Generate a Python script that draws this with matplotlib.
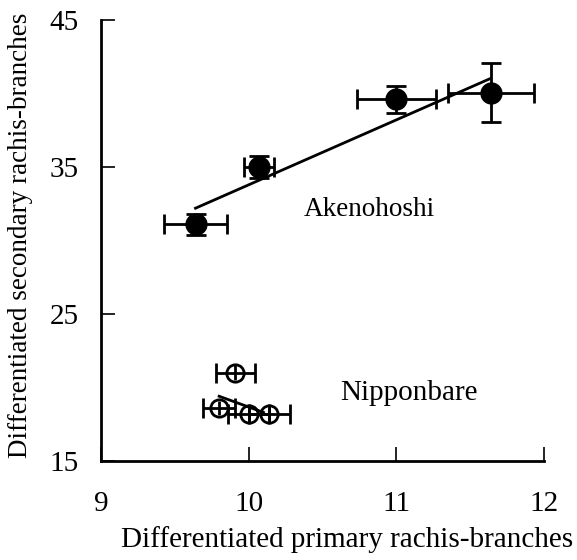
import matplotlib
matplotlib.use("Agg")
import matplotlib.pyplot as plt

# Akenohoshi (filled)
ake_x = [9.64, 10.07, 11.00, 11.64]
ake_y = [31.1, 35.0, 39.6, 40.05]
ake_xerr = [0.21, 0.10, 0.27, 0.29]
ake_yerr = [0.7, 0.75, 0.9, 2.0]
ake_fit_x = [9.64, 11.63]
ake_fit_y = [32.2, 41.0]

# Nipponbare (open)
nip_x = [9.91, 9.80, 10.00, 10.14]
nip_y = [21.0, 18.6, 18.2, 18.2]
nip_xerr = [0.13, 0.11, 0.14, 0.14]
nip_yerr = [0.5, 0.5, 0.5, 0.5]
nip_fit_x = [9.80, 10.10]
nip_fit_y = [19.4, 18.3]

plt.rcParams['font.family'] = ['Liberation Serif', 'DejaVu Serif']

fig = plt.figure(figsize=(5.77, 5.6), dpi=100)
ax = fig.add_axes([0.175, 0.177, 0.768, 0.787])

ax.plot(ake_fit_x, ake_fit_y, color="black", lw=2, zorder=4)
ax.errorbar(ake_x, ake_y, xerr=ake_xerr, yerr=ake_yerr, fmt="o", color="black",
            ms=15, elinewidth=2, capsize=7, capthick=2, zorder=3)

ax.plot(nip_fit_x, nip_fit_y, color="black", lw=2, zorder=4)
ax.errorbar(nip_x, nip_y, xerr=nip_xerr, fmt="o", mfc="none",
            mec="black", mew=2, color="black", ms=12.5, elinewidth=2,
            capsize=7, capthick=2, zorder=3)
ax.errorbar(nip_x, nip_y, yerr=nip_yerr, fmt="none", color="black",
            elinewidth=2, capsize=0, zorder=3)

ax.text(10.37, 32.1, "Akenohoshi", fontsize=19.5, va="center", ha="left")
ax.text(10.62, 19.6, "Nipponbare", fontsize=21, va="center", ha="left")

ax.set_xlim(9, 12)
ax.set_ylim(15, 45)
ax.set_xticks([9, 10, 11, 12])
ax.set_yticks([15, 25, 35, 45])
ax.tick_params(direction="in", length=10, width=1.2, labelsize=21)
ax.tick_params(axis="x", pad=22)
ax.tick_params(axis="y", pad=16)
for s in ["top", "right"]:
    ax.spines[s].set_visible(False)
for s in ["left", "bottom"]:
    ax.spines[s].set_linewidth(2)

fig.text(0.602, 0.036, "Differentiated primary rachis-branches", fontsize=21,
         ha="center", va="center")
fig.text(0.036, 0.58, "Differentiated secondary rachis-branches", fontsize=19.5,
         ha="center", va="center", rotation=90)

fig.savefig("out.png", dpi=100)
